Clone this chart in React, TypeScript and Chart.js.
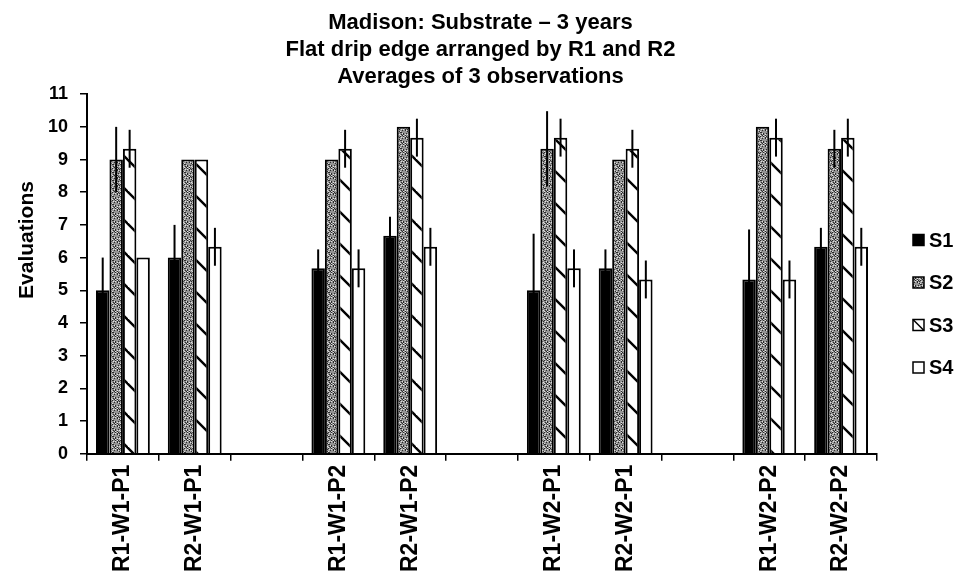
import React, { useEffect, useRef } from 'react';
import { Chart, registerables } from 'chart.js';

Chart.register(...registerables);

const FONT = '"Liberation Sans", Arial, Helvetica, sans-serif';

const titleLines = [
  'Madison: Substrate \u2013 3 years',
  'Flat drip edge arranged by R1 and R2',
  'Averages of 3 observations',
];
const yAxisTitle = 'Evaluations';
const categories = [
  'R1-W1-P1', 'R2-W1-P1', '',
  'R1-W1-P2', 'R2-W1-P2', '',
  'R1-W2-P1', 'R2-W2-P1', '',
  'R1-W2-P2', 'R2-W2-P2',
];
const seriesNames = ['S1', 'S2', 'S3', 'S4'];

const s1Values = [5.0, 6.0, null, 5.67, 6.67, null, 5.0, 5.67, null, 5.33, 6.33];
const s2Values = [9.0, 9.0, null, 9.0, 10.0, null, 9.33, 9.0, null, 10.0, 9.33];
const s3Values = [9.33, 9.0, null, 9.33, 9.67, null, 9.67, 9.33, null, 9.67, 9.67];
const s4Values = [6.0, 6.33, null, 5.67, 6.33, null, 5.67, 5.33, null, 5.33, 6.33];

const s1Errors = [1.0, 1.0, null, 0.58, 0.58, null, 1.73, 0.58, null, 1.53, 0.58];
const s2Errors = [1.0, 0, null, 0, 0, null, 1.15, 0, null, 0, 0.58];
const s3Errors = [0.58, 0, null, 0.58, 0.58, null, 0.58, 0.58, null, 0.58, 0.58];
const s4Errors = [0, 0.58, null, 0.58, 0.58, null, 0.58, 0.58, null, 0.58, 0.58];

const yMin = 0;
const yMax = 11;
const yStep = 1;

function makeStipple(ctx: CanvasRenderingContext2D): CanvasPattern | string {
  const c = document.createElement('canvas');
  c.width = 8;
  c.height = 8;
  const g = c.getContext('2d');
  if (!g) return '#888';
  g.fillStyle = '#939393';
  g.fillRect(0, 0, 8, 8);
  for (let i = 0; i < 8; i++) {
    for (let j = 0; j < 8; j++) {
      const h = (i * 37 + j * 91 + i * j * 13) % 11;
      if (h < 3) {
        g.fillStyle = '#2a2a2a';
        g.fillRect(i, j, 1, 1);
      } else if (h > 8) {
        g.fillStyle = '#e0e0e0';
        g.fillRect(i, j, 1, 1);
      }
    }
  }
  return ctx.createPattern(c, 'repeat') || '#888';
}

function makeHatch(ctx: CanvasRenderingContext2D): CanvasPattern | string {
  const s = 32;
  const c = document.createElement('canvas');
  c.width = s;
  c.height = s;
  const g = c.getContext('2d');
  if (!g) return '#fff';
  g.fillStyle = '#ffffff';
  g.fillRect(0, 0, s, s);
  g.strokeStyle = '#000';
  g.lineWidth = 2.4;
  for (const off of [-s, 0, s]) {
    g.beginPath();
    g.moveTo(off - 2, -2);
    g.lineTo(off + s + 2, s + 2);
    g.stroke();
  }
  return ctx.createPattern(c, 'repeat') || '#fff';
}

const errorBarPlugin = {
  id: 'errorBars',
  afterDatasetsDraw(chart: any) {
    const ctx = chart.ctx;
    const y = chart.scales.y;
    chart.data.datasets.forEach((ds: any, i: number) => {
      const meta = chart.getDatasetMeta(i);
      const errs = ds.errors || [];
      meta.data.forEach((el: any, j: number) => {
        const v = ds.data[j];
        const e = errs[j];
        if (v == null || !e) return;
        ctx.save();
        ctx.strokeStyle = '#000';
        ctx.lineWidth = 2;
        ctx.beginPath();
        ctx.moveTo(el.x, y.getPixelForValue(v + e));
        ctx.lineTo(el.x, y.getPixelForValue(v - e));
        ctx.stroke();
        ctx.restore();
      });
    });
  },
};

const yTitlePlugin = {
  id: 'yTitle',
  afterDraw(chart: any) {
    const ctx = chart.ctx;
    ctx.save();
    ctx.translate(33, 240);
    ctx.rotate(-Math.PI / 2);
    ctx.fillStyle = '#000';
    ctx.font = 'bold 21px ' + FONT;
    ctx.textAlign = 'center';
    ctx.textBaseline = 'alphabetic';
    ctx.fillText(yAxisTitle, 0, 0);
    ctx.restore();
  },
};

const sideLegendPlugin = {
  id: 'sideLegend',
  afterDraw(chart: any) {
    const ctx = chart.ctx;
    const area = chart.chartArea;
    const x = area.right + 36;
    const size = 11;
    const step = 42.5;
    const y0 = 240;
    chart.data.datasets.forEach((ds: any, i: number) => {
      const cy = y0 + i * step;
      ctx.save();
      ctx.fillStyle = ds.backgroundColor;
      ctx.fillRect(x, cy - size / 2, size, size);
      ctx.strokeStyle = '#000';
      ctx.lineWidth = 1.5;
      ctx.strokeRect(x, cy - size / 2, size, size);
      if (i === 2) {
        ctx.beginPath();
        ctx.moveTo(x, cy - size / 2);
        ctx.lineTo(x + size, cy + size / 2);
        ctx.stroke();
      }
      ctx.fillStyle = '#000';
      ctx.font = 'bold 20px ' + FONT;
      ctx.textAlign = 'left';
      ctx.textBaseline = 'middle';
      ctx.fillText(ds.label, x + size + 5, cy + 1);
      ctx.restore();
    });
  },
};

export default function App() {
  const ref = useRef<HTMLCanvasElement | null>(null);

  useEffect(() => {
    const canvas = ref.current;
    if (!canvas) return;
    const ctx = canvas.getContext('2d');
    if (!ctx) return;
    const stipple = makeStipple(ctx);
    const hatch = makeHatch(ctx);
    const values = [s1Values, s2Values, s3Values, s4Values];
    const errors = [s1Errors, s2Errors, s3Errors, s4Errors];
    const fills = ['#000000', stipple, hatch, '#ffffff'];

    const chart = new Chart(ctx, {
      type: 'bar',
      data: {
        labels: categories,
        datasets: seriesNames.map((name, i) => ({
          label: name,
          data: values[i],
          errors: errors[i],
          backgroundColor: fills[i],
          borderColor: '#000',
          borderWidth: 2,
          categoryPercentage: 0.75,
          barPercentage: 1.0,
          yAxisID: 'y',
        })) as any,
      },
      options: {
        responsive: false,
        animation: false,
        layout: { padding: { left: 0, right: 0, top: 0, bottom: 0 } },
        plugins: {
          legend: { display: false },
          tooltip: { enabled: false },
          title: {
            display: true,
            text: titleLines,
            color: '#000',
            font: { family: FONT, size: 22, weight: 'bold', lineHeight: 1.23 },
            padding: { top: 9, bottom: 4 },
          },
        },
        scales: {
          x: {
            grid: {
              display: true,
              drawOnChartArea: false,
              drawTicks: true,
              tickLength: 7,
              color: '#000',
              lineWidth: 1.5,
              offset: true,
            },
            border: { display: true, color: '#000', width: 2 },
            ticks: {
              color: '#000',
              font: { family: FONT, size: 23, weight: 'bold' },
              minRotation: 90,
              maxRotation: 90,
              autoSkip: false,
              padding: 4,
            },
          },
          y: {
            min: yMin,
            max: yMax,
            position: 'left',
            grid: {
              display: true,
              drawOnChartArea: false,
              drawTicks: true,
              tickLength: 7,
              color: '#000',
              lineWidth: 1.5,
            },
            border: { display: true, color: '#000', width: 2 },
            ticks: {
              stepSize: yStep,
              color: '#000',
              font: { family: FONT, size: 18, weight: 'bold' },
              padding: 12,
            },
            afterFit: (scale: any) => {
              scale.width = 87;
            },
          },
          legendSpace: {
            type: 'linear',
            position: 'right',
            display: true,
            grid: { display: false, drawTicks: false },
            border: { display: false },
            ticks: { display: false },
            afterFit: (scale: any) => {
              scale.width = 84;
            },
          },
        },
      } as any,
      plugins: [errorBarPlugin, yTitlePlugin, sideLegendPlugin],
    });
    return () => chart.destroy();
  }, []);

  return (
    <div style={{ position: 'absolute', left: 0, top: 0, width: 961, height: 576, background: '#fff' }}>
      <canvas ref={ref} width={961} height={576} style={{ display: 'block' }} />
    </div>
  );
}
